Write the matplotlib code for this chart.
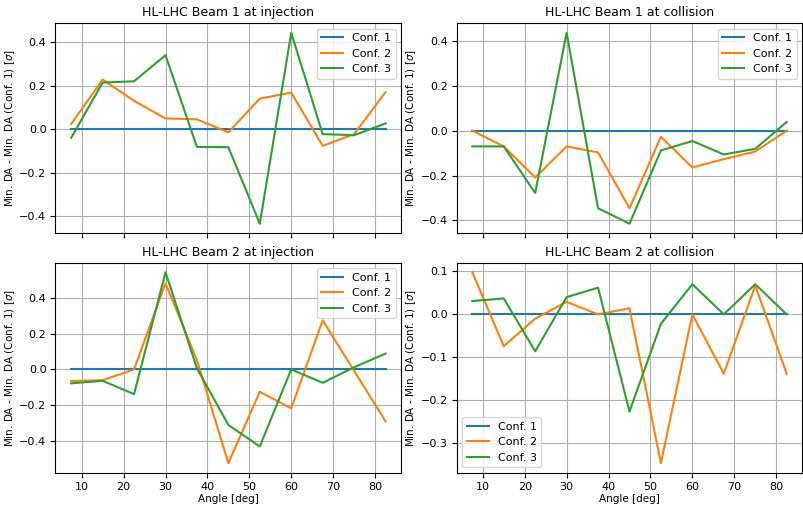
import numpy as np
import matplotlib
matplotlib.use("Agg")
import matplotlib.pyplot as plt

angles = [7.5, 15, 22.5, 30, 37.5, 45, 52.5, 60, 67.5, 75, 82.5]

b1_inj_conf2 = [0.023, 0.228, 0.13, 0.049, 0.045, -0.015, 0.14, 0.168, -0.077, -0.023, 0.17]
b1_inj_conf3 = [-0.04, 0.214, 0.22, 0.34, -0.082, -0.083, -0.435, 0.443, -0.023, -0.028, 0.026]

b1_col_conf2 = [0.0, -0.07, -0.209, -0.07, -0.097, -0.346, -0.027, -0.164, -0.127, -0.093, 0.0]
b1_col_conf3 = [-0.07, -0.07, -0.278, 0.437, -0.346, -0.415, -0.088, -0.046, -0.106, -0.081, 0.039]

b2_inj_conf2 = [-0.065, -0.06, 0.0, 0.48, 0.052, -0.523, -0.125, -0.217, 0.273, -0.008, -0.29]
b2_inj_conf3 = [-0.078, -0.064, -0.138, 0.542, 0.006, -0.31, -0.43, 0.0, -0.075, 0.012, 0.088]

b2_col_conf2 = [0.098, -0.074, -0.01, 0.029, 0.0, 0.014, -0.346, 0.0, -0.138, 0.067, -0.138]
b2_col_conf3 = [0.031, 0.037, -0.086, 0.04, 0.062, -0.226, -0.022, 0.07, 0.0, 0.07, 0.0]

panels = [
    ("HL-LHC Beam 1 at injection", b1_inj_conf2, b1_inj_conf3, "upper right"),
    ("HL-LHC Beam 1 at collision", b1_col_conf2, b1_col_conf3, "upper right"),
    ("HL-LHC Beam 2 at injection", b2_inj_conf2, b2_inj_conf3, "upper right"),
    ("HL-LHC Beam 2 at collision", b2_col_conf2, b2_col_conf3, "lower left"),
]

fig, axes = plt.subplots(2, 2, figsize=(8.04, 5.05), dpi=100, sharex=True)
for ax, (title, c2, c3, loc) in zip(axes.flat, panels):
    ax.plot(angles, np.zeros(len(angles)), label="Conf. 1")
    ax.plot(angles, c2, label="Conf. 2")
    ax.plot(angles, c3, label="Conf. 3")
    ax.set_title(title, fontsize=9, pad=5)
    ax.set_ylabel(r"Min. DA - Min. DA (Conf. 1) [$\sigma$]", fontsize=7.5, labelpad=2)
    ax.tick_params(labelsize=8, pad=3)
    ax.grid(True)
    ax.legend(loc=loc, fontsize=8)

for ax in axes[1]:
    ax.set_xlabel("Angle [deg]", fontsize=7.5, labelpad=1.5)
    ax.set_xticks([10, 20, 30, 40, 50, 60, 70, 80])

plt.subplots_adjust(left=0.069, right=0.998, top=0.954, bottom=0.064, wspace=0.16, hspace=0.14)
plt.savefig("out.png")
